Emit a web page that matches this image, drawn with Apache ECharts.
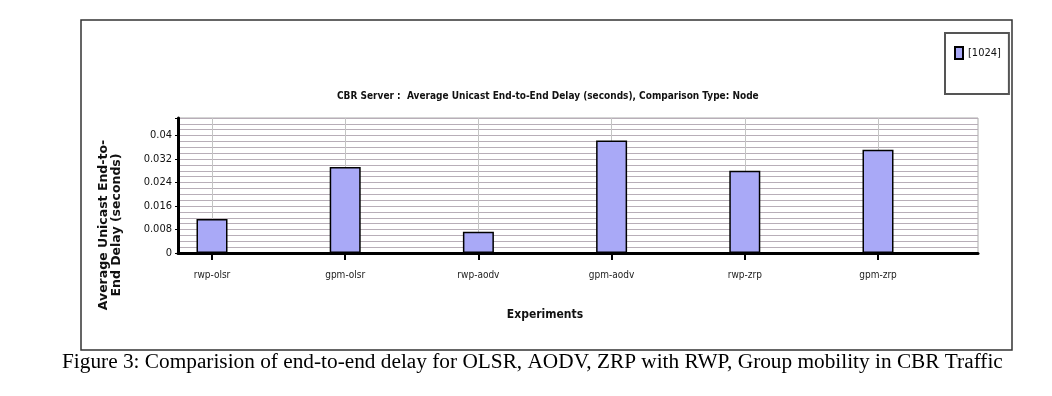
<!DOCTYPE html>
<html>
<head>
<meta charset="utf-8">
<script src="https://cdn.jsdelivr.net/npm/echarts@6/dist/echarts.min.js"></script>
<style>
  html, body { margin: 0; padding: 0; background: #fff; }
  #chart { width: 1052px; height: 396px; }
</style>
</head>
<body>
<div id="chart"></div>
<script>
// данные графика
const categories = ["rwp-olsr", "gpm-olsr", "rwp-aodv", "gpm-aodv", "rwp-zrp", "gpm-zrp"];
const delayValues = [0.0116, 0.0293, 0.0072, 0.0383, 0.0280, 0.0352];
const seriesName = "[1024]";
const yMax = 0.046;
const yLabelStep = 0.008;

const narrow = "'DejaVu Sans Condensed', 'Liberation Sans Narrow', 'Liberation Sans', Arial, sans-serif";

const chart = echarts.init(document.getElementById("chart"));

const option = {
    backgroundColor: "#fff",
    animation: false,
    legend: {
        left: 945,
        top: 33,
        orient: "vertical",
        padding: [13, 8, 34, 9],
        borderColor: "#555",
        borderWidth: 2,
        itemWidth: 8,
        itemHeight: 12,
        itemGap: 8,
        icon: "rect",
        textStyle: { fontFamily: narrow, fontSize: 11, color: "#111" },
        data: [seriesName]
    },
    grid: [
        // фон и горизонтальные линии
        { left: 178, right: 74, top: 118, bottom: 143, show: true, borderColor: "#aaa", borderWidth: 1 },
        // сетка для столбцов (тики категорий)
        { left: 212, right: 174, top: 118, bottom: 143 }
    ],
    xAxis: [
        {
            type: "value", gridIndex: 0, min: 0, max: 1,
            axisLine: { show: true, onZero: false, lineStyle: { color: "#000", width: 3 } },
            axisTick: { show: false }, axisLabel: { show: false }, splitLine: { show: false }
        },
        {
            type: "category", gridIndex: 1, data: categories, boundaryGap: false,
            name: "Experiments", nameLocation: "middle", nameGap: 56,
            nameTextStyle: { fontFamily: narrow, fontSize: 12, fontWeight: "bold", color: "#111" },
            axisLine: { show: false },
            axisTick: { show: true, length: 7, lineStyle: { color: "#000", width: 2 } },
            axisLabel: { fontFamily: narrow, fontSize: 10, color: "#222", margin: 17 },
            splitLine: { show: true, lineStyle: { color: "#c4c4c4", width: 1 } }
        }
    ],
    yAxis: [
        {
            type: "value", gridIndex: 0, min: 0, max: yMax, interval: 0.002,
            axisLine: { show: true, lineStyle: { color: "#000", width: 3 } },
            axisTick: { show: false },
            axisLabel: {
                fontFamily: narrow, fontSize: 11, color: "#111", margin: 6,
                formatter: (v) => {
                    const k = v / yLabelStep;
                    return Math.abs(k - Math.round(k)) < 1e-6 ? String(+v.toFixed(3)) : "";
                }
            },
            splitLine: { show: true, lineStyle: { color: "#b8aeb8", width: 1 } }
        },
        {
            // только короткие тики у подписей
            type: "value", gridIndex: 0, position: "left", min: 0, max: yMax, interval: yLabelStep,
            axisLine: { show: false },
            axisTick: { show: true, length: 3, lineStyle: { color: "#000", width: 1 } },
            axisLabel: { show: false }, splitLine: { show: false }
        },
        {
            type: "value", gridIndex: 1, min: 0, max: yMax, show: false
        }
    ],
    graphic: [
        {
            type: "rect", z: -10,
            shape: { x: 81, y: 20, width: 931, height: 330 },
            style: { fill: "none", stroke: "#333", lineWidth: 1.5 }
        },
        {
            type: "text", left: 337, top: 91,
            style: {
                text: "CBR Server :  Average Unicast End-to-End Delay (seconds), Comparison Type: Node",
                font: "bold 10px " + narrow, fill: "#111"
            }
        },
        {
            type: "text", x: 110, y: 225, rotation: Math.PI / 2,
            style: {
                text: "Average Unicast End-to-\nEnd Delay (seconds)",
                font: "bold 12.5px 'DejaVu Sans', Verdana, sans-serif",
                fill: "#111", align: "center", verticalAlign: "middle", lineHeight: 13
            }
        },
        {
            type: "text", left: 62, top: 352,
            style: {
                text: "Figure 3: Comparision of end-to-end delay for OLSR, AODV, ZRP with RWP, Group mobility in CBR Traffic",
                font: "21.3px 'Liberation Serif', 'Times New Roman', serif", fill: "#000"
            }
        }
    ],
    series: [
        {
            name: seriesName,
            type: "bar",
            xAxisIndex: 1,
            yAxisIndex: 2,
            barWidth: 31,
            data: delayValues,
            itemStyle: { color: "#a9a9f7", borderColor: "#000", borderWidth: 1.5 }
        }
    ]
};

chart.setOption(option);
</script>
</body>
</html>
